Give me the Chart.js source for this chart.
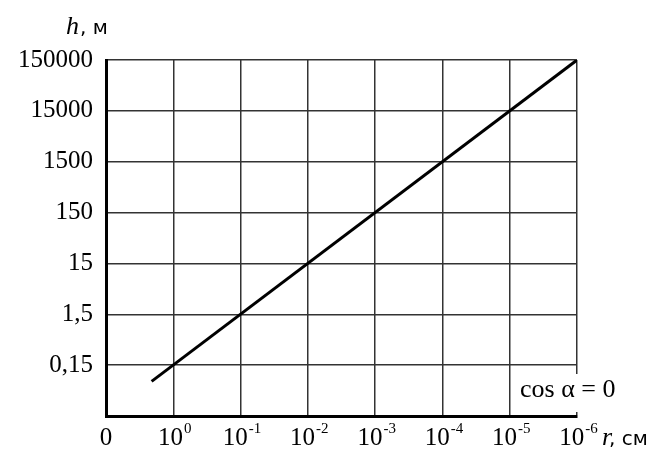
<!DOCTYPE html>
<html>
<head>
<meta charset="utf-8">
<script src="https://cdn.jsdelivr.net/npm/chart.js@4"></script>
<style>
  html, body { margin: 0; padding: 0; background: #fff; }
  #wrap { width: 664px; height: 454px; }
</style>
</head>
<body>
<div id="wrap"><canvas id="hGraph"></canvas></div>
<script>
// ось r (см), слева направо: 0, 10^0 ... 10^-6
const rTicks = [10, 1, 1e-1, 1e-2, 1e-3, 1e-4, 1e-5, 1e-6];
const rExp = [null, '0', '-1', '-2', '-3', '-4', '-5', '-6'];

// ось h (м)
const hTicks = [0.015, 0.15, 1.5, 15, 150, 1500, 15000, 150000];
const hLabels = ['', '0,15', '1,5', '15', '150', '1500', '15000', '150000'];

// линия h(r)
const rValues = [2.1, 1e-6];
const hValues = [0.072, 150000];

const serif = '"Liberation Serif", "Times New Roman", serif';
const sans = '"DejaVu Sans", Verdana, sans-serif';

// подписи оси x со степенями и надписи осей
const labelsPlugin = {
    id: 'labels',
    afterDraw(chart) {
        const ctx = chart.ctx;
        const xs = chart.scales.x;
        ctx.save();
        ctx.fillStyle = '#000';
        ctx.textBaseline = 'alphabetic';
        rTicks.forEach((v, i) => {
            const px = xs.getPixelForValue(v);
            ctx.font = '25px ' + serif;
            if (rExp[i] === null) {
                ctx.textAlign = 'center';
                ctx.fillText('0', px, 445);
                return;
            }
            const base = '10';
            const wb = ctx.measureText(base).width;
            ctx.font = '15px ' + serif;
            const we = ctx.measureText(rExp[i]).width;
            const x0 = px - (wb + we) / 2 + 1;
            ctx.textAlign = 'left';
            ctx.font = '25px ' + serif;
            ctx.fillText(base, x0, 445);
            ctx.font = '15px ' + serif;
            ctx.fillText(rExp[i], x0 + wb + 1, 433);
        });

        // h, м
        ctx.textAlign = 'left';
        ctx.font = 'italic 26px ' + serif;
        ctx.fillText('h', 66, 34);
        ctx.font = '20px ' + sans;
        ctx.fillText(', м', 80, 34);

        // r, см
        ctx.font = 'italic 26px ' + serif;
        ctx.fillText('r', 602, 445);
        ctx.font = '20px ' + sans;
        ctx.fillText(', см', 609, 445);

        // cos α = 0
        ctx.fillStyle = '#fff';
        ctx.fillRect(516, 374, 104, 38);
        ctx.fillStyle = '#000';
        ctx.font = '26px ' + serif;
        ctx.fillText('cos α = 0', 520, 397);
        ctx.restore();
    }
};

const ctx = document.getElementById('hGraph').getContext('2d');
new Chart(ctx, {
    type: 'line',
    data: {
        datasets: [{
            data: rValues.map((r, i) => ({ x: r, y: hValues[i] })),
            borderColor: '#000',
            borderWidth: 3,
            pointRadius: 0,
            fill: false
        }]
    },
    options: {
        responsive: true,
        maintainAspectRatio: false,
        animation: false,
        layout: { padding: { top: 60, right: 87, left: 0, bottom: 0 } },
        plugins: {
            legend: { display: false },
            tooltip: { enabled: false }
        },
        scales: {
            x: {
                type: 'logarithmic',
                reverse: true,
                min: 1e-6,
                max: 10,
                afterBuildTicks: s => { s.ticks = rTicks.map(v => ({ value: v })); },
                afterFit: s => { s.height = 38; },
                ticks: { display: false, autoSkip: false },
                grid: { color: '#333', lineWidth: 1.5, drawTicks: false },
                border: { color: '#000', width: 3 }
            },
            y: {
                type: 'logarithmic',
                min: 0.015,
                max: 150000,
                afterBuildTicks: s => { s.ticks = hTicks.map(v => ({ value: v })); },
                afterFit: s => { s.width = 106; },
                ticks: {
                    autoSkip: false,
                    padding: 13,
                    color: '#000',
                    font: { family: serif, size: 25 },
                    callback: (v, i) => hLabels[i]
                },
                grid: { color: '#333', lineWidth: 1.5, drawTicks: false },
                border: { color: '#000', width: 3 }
            }
        }
    },
    plugins: [labelsPlugin]
});
</script>
</body>
</html>
